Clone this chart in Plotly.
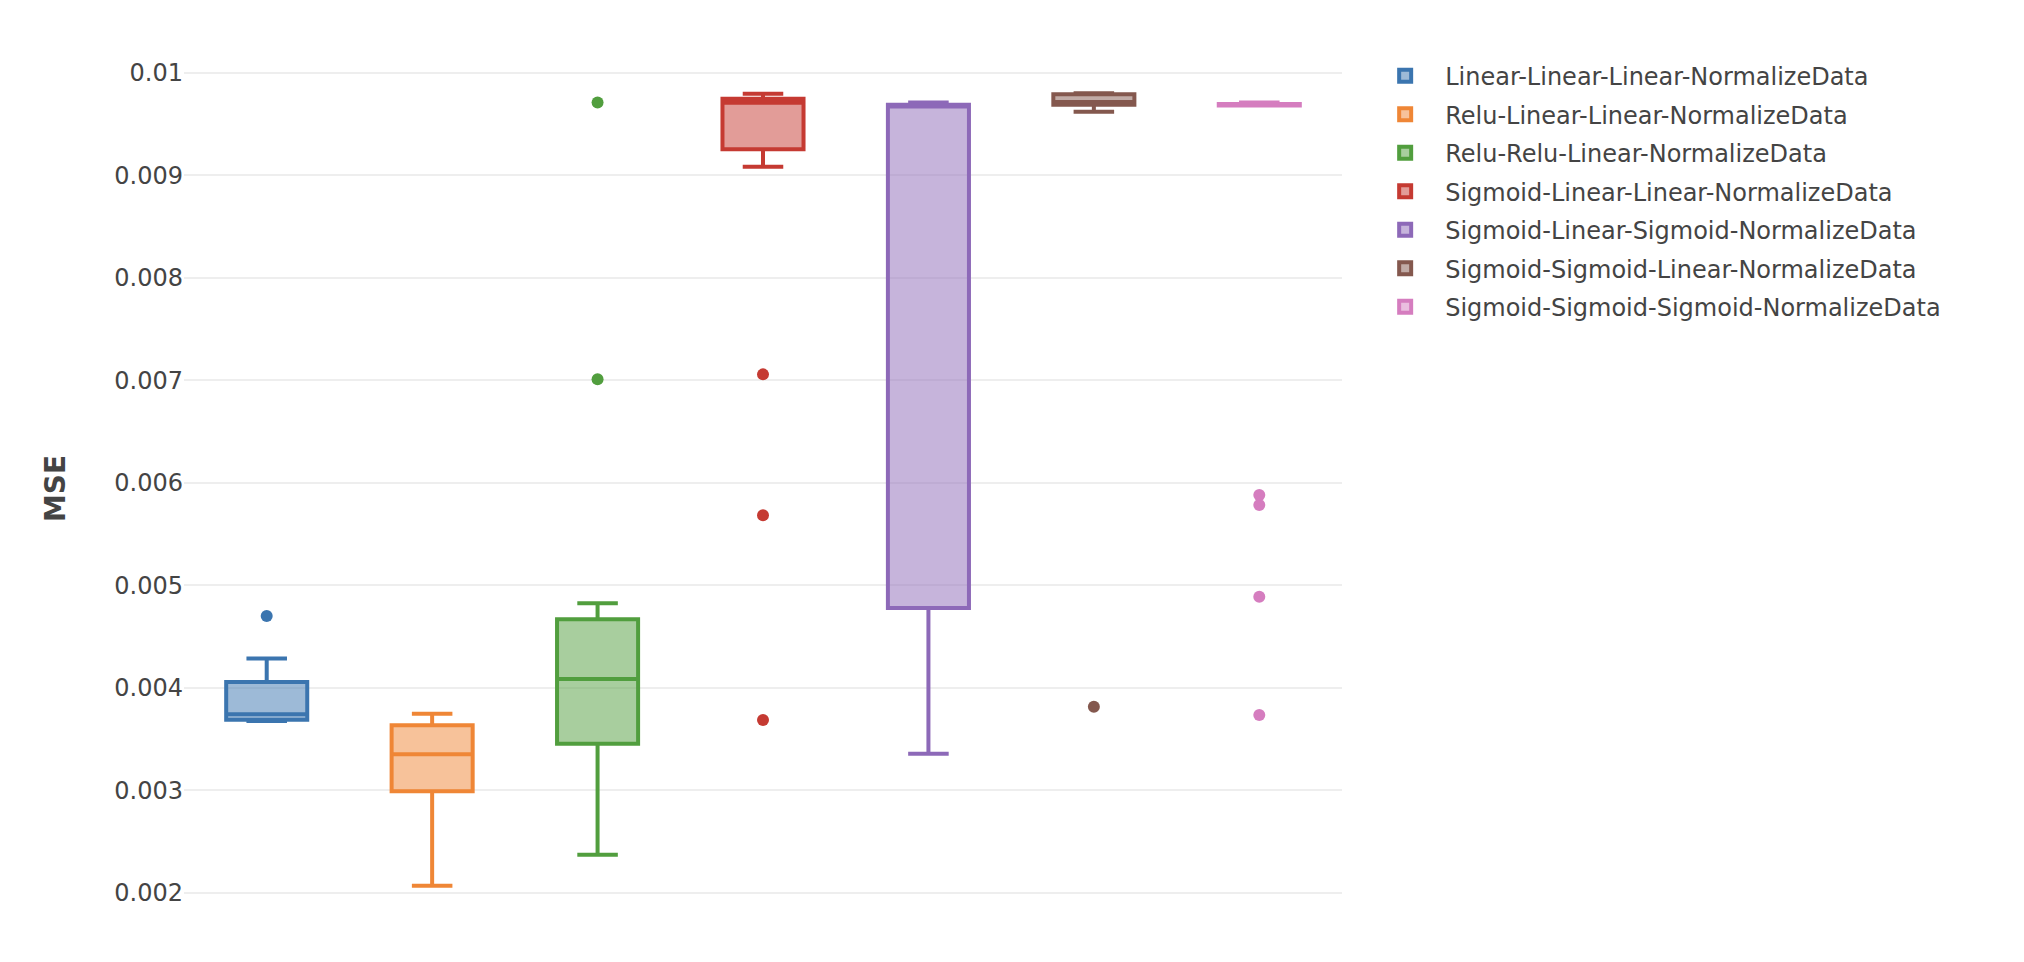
import plotly.graph_objects as go

# Box statistics (MSE values)
names = [
    "Linear-Linear-Linear-NormalizeData",
    "Relu-Linear-Linear-NormalizeData",
    "Relu-Relu-Linear-NormalizeData",
    "Sigmoid-Linear-Linear-NormalizeData",
    "Sigmoid-Linear-Sigmoid-NormalizeData",
    "Sigmoid-Sigmoid-Linear-NormalizeData",
    "Sigmoid-Sigmoid-Sigmoid-NormalizeData",
]
lowerfence = [0.003675, 0.002068, 0.002371, 0.009083, 0.003355, 0.009619, 0.009680]
q1 =         [0.003688, 0.002989, 0.003454, 0.009253, 0.004778, 0.009688, 0.009680]
median =     [0.003741, 0.003351, 0.004085, 0.009706, 0.009670, 0.009714, 0.009688]
q3 =         [0.004055, 0.003633, 0.004667, 0.009746, 0.009688, 0.009790, 0.009695]
upperfence = [0.004285, 0.003745, 0.004823, 0.009794, 0.009710, 0.009800, 0.009710]
outliers = [
    [0.00470],
    [],
    [0.00701, 0.00971],
    [0.003685, 0.005682, 0.007057],
    [],
    [0.003815],
    [0.003733, 0.004888, 0.005782, 0.005880],
]
colors = ["#3b75af", "#ef8636", "#519e3e", "#c53a32", "#8d69b8", "#84584e", "#d57dbf"]

fig = go.Figure()
for i, n in enumerate(names):
    fig.add_trace(go.Box(
        name=n, x=[n], legendgroup=n,
        q1=[q1[i]], median=[median[i]], q3=[q3[i]],
        lowerfence=[lowerfence[i]], upperfence=[upperfence[i]],
        line=dict(color=colors[i], width=4),
        whiskerwidth=0.5,
    ))
for i, n in enumerate(names):
    if outliers[i]:
        fig.add_trace(go.Scatter(
            x=[n] * len(outliers[i]), y=outliers[i], mode="markers",
            marker=dict(color=colors[i], size=12), legendgroup=n,
            showlegend=False, name=n,
        ))

fig.update_layout(
    width=2024, height=962,
    margin=dict(l=184, r=682, t=52, b=37),
    paper_bgcolor="white", plot_bgcolor="white",
    font=dict(family="DejaVu Sans", size=24, color="#444"),
    showlegend=True,
    legend=dict(font=dict(size=24), itemwidth=70, tracegroupgap=4.3,
                y=0.998, yanchor="top"),
    xaxis=dict(showticklabels=False, showgrid=False, zeroline=False,
               categoryorder="array", categoryarray=names),
    yaxis=dict(range=[0.001685, 0.010202], dtick=0.001, tick0=0.002,
               showgrid=True, gridcolor="#eee", gridwidth=2, zeroline=False,
               ticks="", title=dict(text="<b>MSE</b>", font=dict(size=28), standoff=40)),
)

fig.write_html("out.html")
